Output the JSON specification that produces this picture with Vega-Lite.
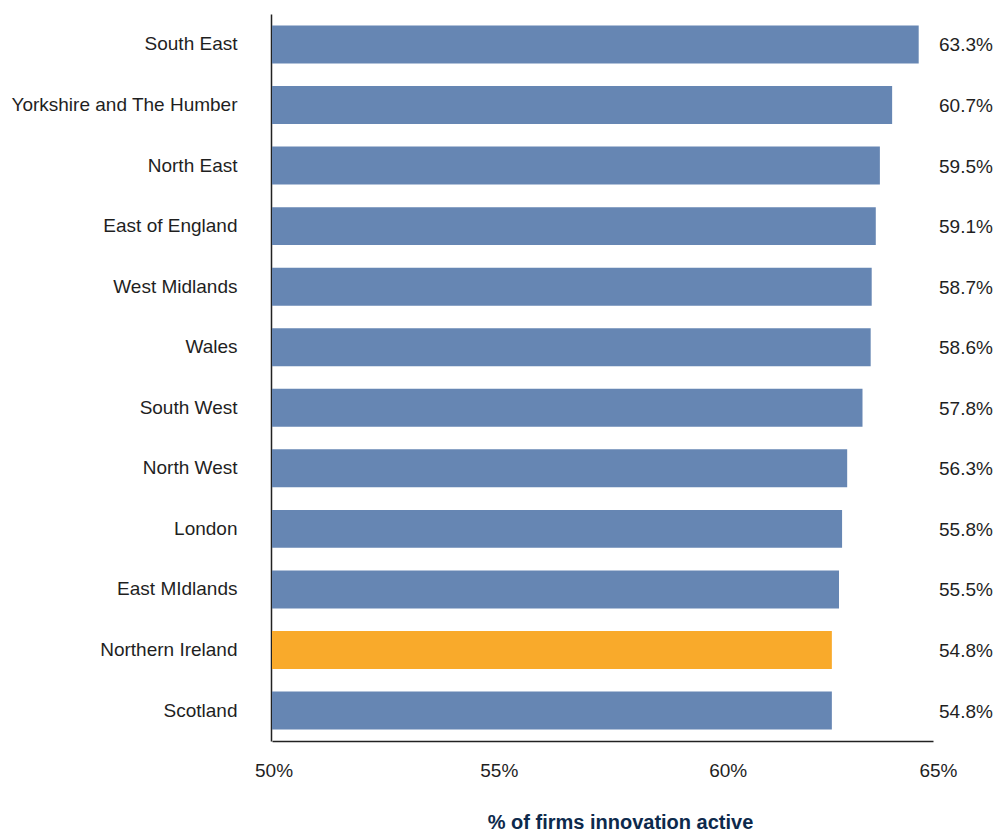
{
  "$schema": "https://vega.github.io/schema/vega-lite/v6.json",
  "autosize": "none",
  "width": 661,
  "height": 727,
  "padding": {"left": 272, "top": 14, "right": 63, "bottom": 92},
  "background": "white",
  "config": {
    "view": {"stroke": null},
    "font": "Liberation Sans"
  },
  "data": {
    "values": [
      {"region": "South East", "value": 63.3, "highlight": "no"},
      {"region": "Yorkshire and The Humber", "value": 60.7, "highlight": "no"},
      {"region": "North East", "value": 59.5, "highlight": "no"},
      {"region": "East of England", "value": 59.1, "highlight": "no"},
      {"region": "West Midlands", "value": 58.7, "highlight": "no"},
      {"region": "Wales", "value": 58.6, "highlight": "no"},
      {"region": "South West", "value": 57.8, "highlight": "no"},
      {"region": "North West", "value": 56.3, "highlight": "no"},
      {"region": "London", "value": 55.8, "highlight": "no"},
      {"region": "East MIdlands", "value": 55.5, "highlight": "no"},
      {"region": "Northern Ireland", "value": 54.8, "highlight": "yes"},
      {"region": "Scotland", "value": 54.8, "highlight": "no"}
    ]
  },
  "encoding": {
    "y": {
      "field": "region",
      "type": "nominal",
      "sort": null,
      "scale": {"paddingInner": 0.373, "paddingOuter": 0.19},
      "axis": {
        "title": null,
        "ticks": false,
        "offset": 1,
        "labelPadding": 34,
        "labelFontSize": 19,
        "labelLimit": 0,
        "labelColor": "#1f1f1f",
        "domainColor": "#222222",
        "domainWidth": 1.5,
        "grid": false
      }
    }
  },
  "layer": [
    {
      "mark": {"type": "bar"},
      "encoding": {
        "x": {
          "field": "value",
          "type": "quantitative",
          "scale": {"domain": [0, 64.7], "nice": false, "zero": true},
          "axis": {
            "title": "% of firms innovation active",
            "titleFontSize": 20,
            "titleFontWeight": "bold",
            "titleColor": "#0d2a4c",
            "titlePadding": 32,
            "titleX": 348,
            "values": [0.15, 22.2, 44.6, 64.7],
            "labelExpr": "datum.value < 1 ? '50%' : datum.value < 30 ? '55%' : datum.value < 50 ? '60%' : '65%'",
            "labelOffset": {"condition": {"test": "datum.value > 60", "value": 24}, "value": 0},
            "labelOverlap": false,
            "labelFontSize": 19,
            "labelColor": "#1f1f1f",
            "labelPadding": 20,
            "ticks": false,
            "grid": false,
            "domainColor": "#222222",
            "domainWidth": 1.5
          }
        },
        "color": {
          "field": "highlight",
          "type": "nominal",
          "scale": {"domain": ["no", "yes"], "range": ["#6686b3", "#f9aa2b"]},
          "legend": null
        }
      }
    },
    {
      "mark": {"type": "text", "align": "left", "baseline": "middle", "dx": 6, "dy": 1, "fontSize": 19, "color": "#1f1f1f", "text": {"expr": "format(datum.value, '.1f') + '%'"}},
      "encoding": {
        "x": {"datum": 64.7, "type": "quantitative"}
      }
    }
  ]
}
